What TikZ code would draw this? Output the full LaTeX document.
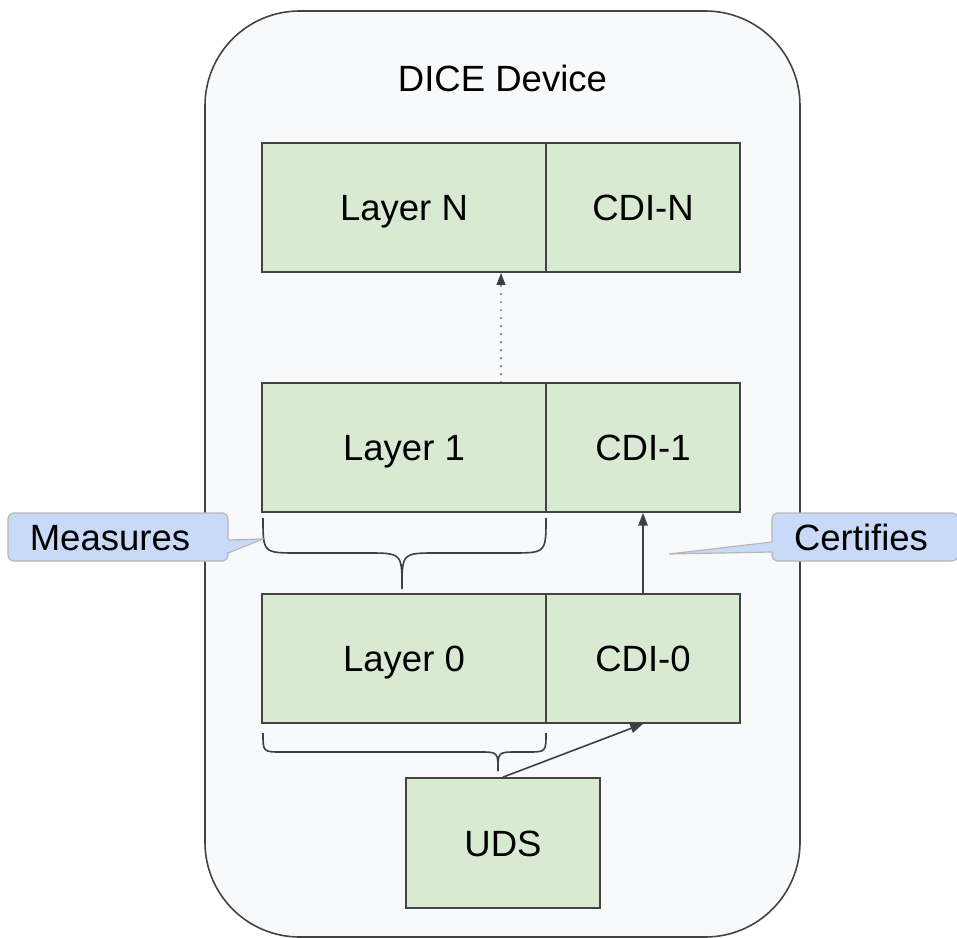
\documentclass[tikz,border=0pt]{standalone}
\usepackage{fontspec}
\setmainfont{Liberation Sans}
\usetikzlibrary{arrows.meta}
\definecolor{boxfill}{HTML}{D9EAD3}
\definecolor{boxline}{HTML}{434343}
\definecolor{devfill}{HTML}{F8F9FA}
\definecolor{callfill}{HTML}{C9DAF8}
\definecolor{callline}{HTML}{B7B7B7}
\definecolor{arrcol}{HTML}{3C4043}
\begin{document}
\begin{tikzpicture}[x=0.75pt,y=-0.75pt,
  font=\fontsize{27.4}{32}\selectfont,
  blk/.style={draw=boxline, fill=boxfill, line width=1.3pt, inner sep=0pt,
    text height=19.6pt, text depth=0pt, minimum height=129*0.75pt},
  wide/.style={blk, minimum width=284*0.75pt},
  narrow/.style={blk, minimum width=194*0.75pt},
  callout/.style={draw=callline, fill=callfill, line width=0.9pt, inner sep=0pt,
    rounded corners=4.5pt, text height=19.6pt, text depth=0pt,
    minimum height=48*0.75pt},
  tailline/.style={draw=callline, line width=0.9pt, line join=miter},
  arr/.style={draw=arrcol, line width=1.2pt, -{Triangle[length=9.5pt,width=7pt]}},
  brace/.style={draw=arrcol, line width=1.2pt}
]
\useasboundingbox (0,0) rectangle (957,938);

% device
\draw[fill=devfill, draw=boxline, line width=1.2pt, rounded corners=71pt] (205,11) rectangle (800,937);
\node[inner sep=0pt, text height=19.6pt, text depth=0pt] (title) at (502.5,78) {DICE Device};

% layers
\node[wide]   (ln) at (404,207.5) {Layer N};
\node[narrow] (cn) at (643,207.5) {CDI-N};
\node[wide]   (l1) at (404,447.5) {Layer 1};
\node[narrow] (c1) at (643,447.5) {CDI-1};
\node[wide]   (l0) at (404,658.5) {Layer 0};
\node[narrow] (c0) at (643,658.5) {CDI-0};
\node[blk, minimum width=194*0.75pt, minimum height=130*0.75pt] (uds) at (503,843) {UDS};

% arrows
\draw[arr, line cap=round, dash pattern=on 0.01pt off 6pt, line width=1.4pt,
  -{Triangle[length=9pt,width=6.5pt,line cap=butt]}]
  ([xshift=97*0.75pt]l1.north) -- ([xshift=97*0.75pt]ln.south);
\draw[arr] (c0.north) -- (c1.south);
\draw[arr] (uds.north) -- (c0.south);

% braces
\draw[brace] (263,518) .. controls (263,553) .. (298,553) -- (367,553)
  .. controls (402,553) .. (402,589) .. controls (402,553) .. (437,553)
  -- (511,553) .. controls (546,553) .. (546,518);
\draw[brace] (263,733) .. controls (263,752) .. (282,752) -- (479,752)
  .. controls (498,752) .. (498,771) .. controls (498,752) .. (517,752)
  -- (527,752) .. controls (546,752) .. (546,733);

% callouts
\node[callout, minimum width=220*0.75pt] (meas) at (118,537) {Measures\kern 12pt\relax};
\coordinate (mtip) at (263,539);
\fill[callfill] (225,540) -- (mtip) -- (225,553) -- cycle;
\draw[tailline] (228,540) -- (mtip) -- (228,553);

\node[callout, minimum width=186*0.75pt] (cert) at (865,537) {Certifies\kern 6pt\relax};
\coordinate (ctip) at (669,554);
\fill[callfill] (775,542) -- (ctip) -- (775,552) -- cycle;
\draw[tailline] (772,542) -- (ctip) -- (772,552);
\end{tikzpicture}
\end{document}
